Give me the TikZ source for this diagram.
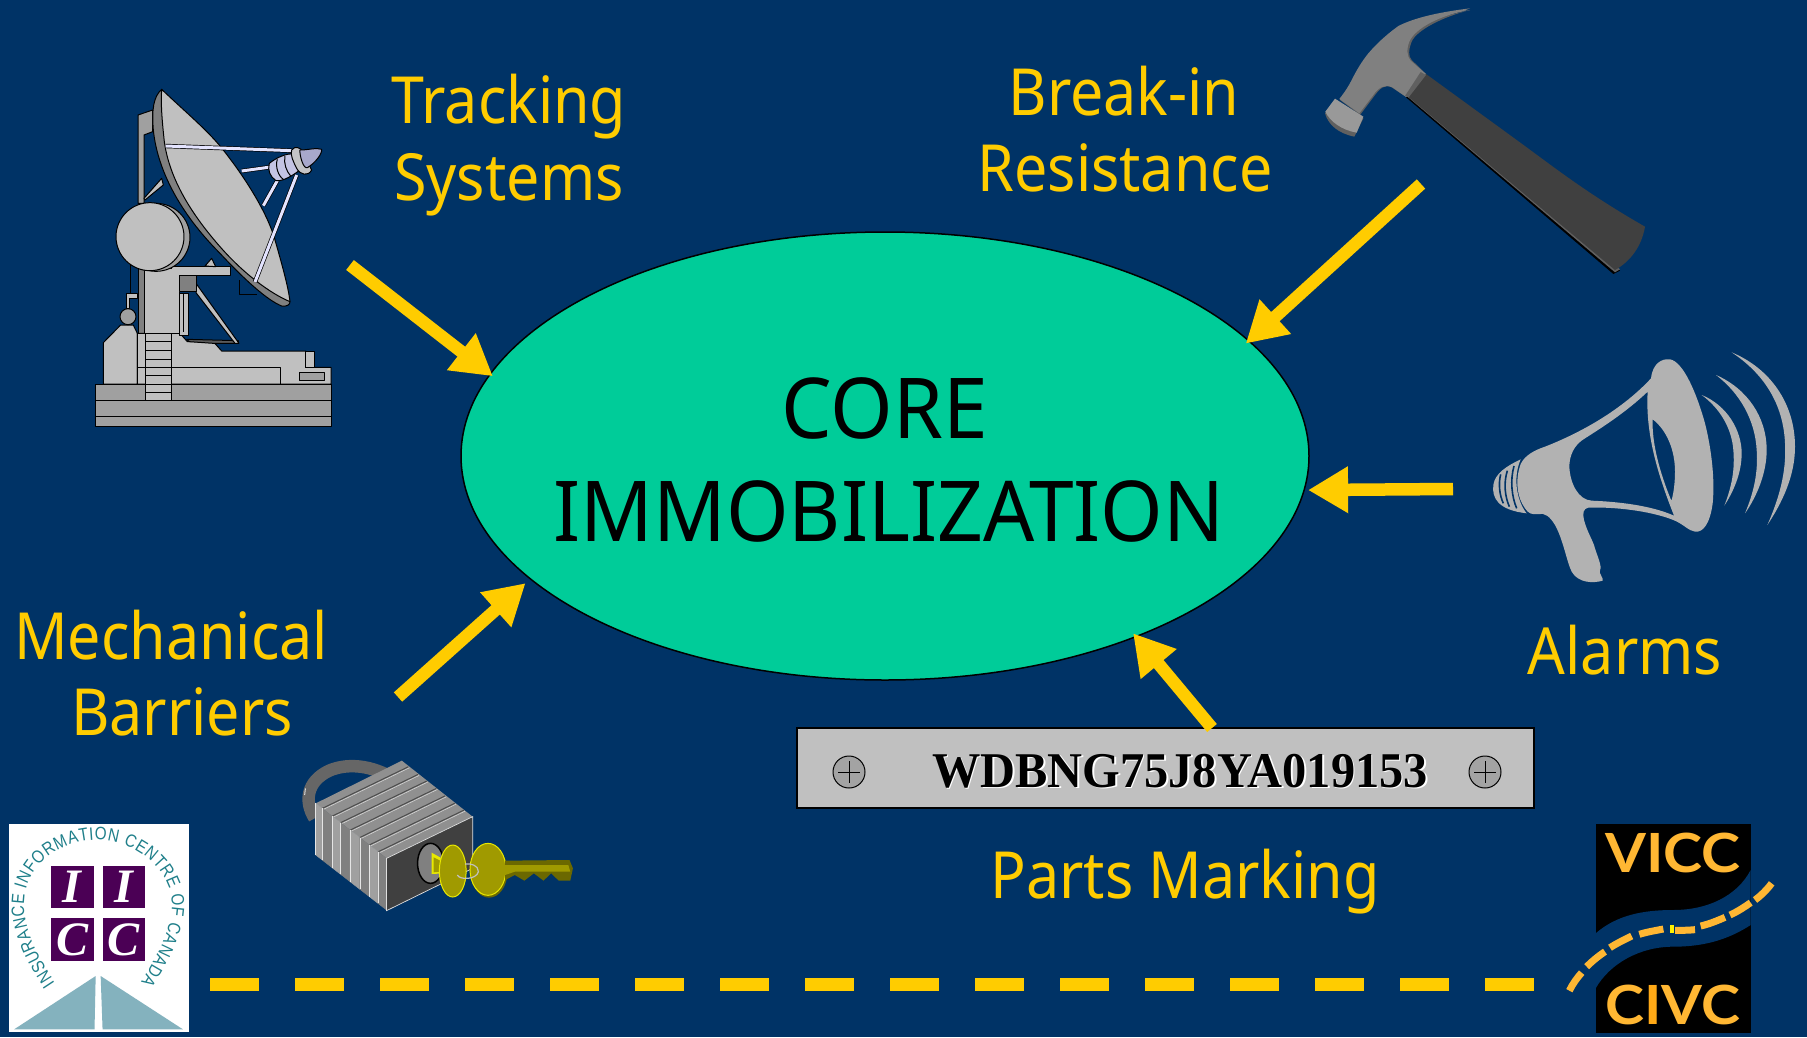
\documentclass[tikz,border=0pt]{standalone}
\usepackage{fontspec}
\usetikzlibrary{shapes.geometric,arrows.meta,decorations.text}
\newfontfamily\labfont[FakeStretch=0.91]{Noto Sans}
\newfontfamily\corefont[FakeStretch=0.955]{Noto Sans}
\newfontfamily\timesfont{Liberation Serif}
\newfontfamily\vinfont[FakeStretch=0.968]{Liberation Serif}
\newfontfamily\vfont[FakeStretch=1.09]{Lato}
\newfontfamily\logofont[FakeStretch=0.85]{Liberation Sans}
\definecolor{bgblue}{HTML}{003366}
\definecolor{gold}{HTML}{FFCC00}
\definecolor{corefill}{HTML}{00CC99}
\definecolor{gc}{HTML}{C0C0C0}
\definecolor{ga}{HTML}{A0A0A0}
\definecolor{gd}{HTML}{808080}
\definecolor{lav}{HTML}{E4E4FF}
\definecolor{lavd}{HTML}{A8A8CC}
\definecolor{lavm}{HTML}{C4C4E4}
\definecolor{hhead}{HTML}{808080}
\definecolor{hdark}{HTML}{404040}
\definecolor{hmid}{HTML}{606060}
\definecolor{hface}{HTML}{999999}
\definecolor{mega}{HTML}{B2B2B2}
\definecolor{olive}{HTML}{A09A00}
\definecolor{olived}{HTML}{6B6800}
\definecolor{keyy}{HTML}{E8E800}
\definecolor{purp}{HTML}{4B0055}
\definecolor{logoteal}{HTML}{1F7F8A}
\definecolor{roadt}{HTML}{84B2BE}
\definecolor{vorange}{HTML}{FFB733}
\definecolor{vorange2}{HTML}{FFA916}
\definecolor{shackle}{HTML}{666666}
\tikzset{
  yellowarrow/.style={draw=gold,line width=12.5pt,-{Triangle[length=40pt,width=44pt]}},
  goldlabel/.style={text=gold,font=\labfont\fontsize{65}{65}\selectfont,anchor=base,inner sep=0pt},
  corelabel/.style={text=black,font=\corefont\fontsize{84}{84}\selectfont,anchor=base,inner sep=0pt},
  sat/.style={draw=black,line width=1pt,line join=round},
  strut/.style={draw=black,line width=.7pt,double=lav,double distance=3pt},
  zoomthree/.style={x=0.33333pt,y=-0.33333pt},
  zoomwide/.style={x=0.38272pt,y=-0.33333pt},
  roadseg/.style={vorange,line width=7pt},
}
\begin{document}
\begin{tikzpicture}[x=1pt,y=-1pt]
\useasboundingbox (0,0) rectangle (1807,1037);
\fill[bgblue] (0,0) rectangle (1807,1037);

% central ellipse
\node[ellipse,draw=black,line width=1.5pt,fill=corefill,minimum width=848pt,minimum height=448pt,inner sep=0pt] (core) at (885,456) {};
\node[corelabel] (c1) at (885,438) {CORE};
\node[corelabel] (c2) at (889,541) {IMMOBILIZATION};

% labels
\node[goldlabel] (t1) at (509,123) {Tracking};
\node[goldlabel] (t2) at (509,200) {Systems};
\node[goldlabel] (b1) at (1124,115) {Break-in};
\node[goldlabel] (b2) at (1125,191) {Resistance};
\node[goldlabel] (a1) at (1625,674) {Alarms};
\node[goldlabel] (m1) at (171,659) {Mechanical};
\node[goldlabel] (m2) at (182,735) {Barriers};
\node[goldlabel] (p1) at (1185,898) {Parts Marking};

% plate
\node[draw=black,line width=2pt,fill=gc,minimum width=737pt,minimum height=80pt,inner sep=0pt,anchor=north west] (plate) at (796,727) {};
\node[anchor=base,inner sep=0pt,font=\vinfont\bfseries\fontsize{50}{50}\selectfont] (vin) at (1180,787)
  {\rlap{\kern1.5pt\raisebox{-1.5pt}{\textcolor{white}{WDBNG75J8YA019153}}}WDBNG75J8YA019153};
\foreach \n/\cx in {s1/849,s2/1485}{
  \node[circle,draw=black,line width=1pt,fill=gc!85!black,minimum size=32pt,inner sep=0pt] (\n) at (\cx,772) {};
  \draw[black,line width=1pt] (\cx-11,772) -- (\cx+11,772) (\cx,761) -- (\cx,783);
}

% arrows
\coordinate (aT) at (350,265);
\coordinate (aB) at (1421,184);
\coordinate (aA) at (1453,489);
\coordinate (aP) at (1212,728);
\coordinate (aM) at (398,697);
\draw[yellowarrow] (aT) -- ([xshift=2pt,yshift=-4pt]core.168.5);
\draw[yellowarrow] (aB) -- ([xshift=-7pt]core.17.3);
\draw[yellowarrow] (aA) -- ([xshift=2pt,yshift=-4.6pt]core.-4.4);
\draw[yellowarrow] (aP) -- ([xshift=-8pt,yshift=2pt]core.-35.6);
\draw[yellowarrow] (aM) -- ([xshift=-3.5pt,yshift=-4.6pt]core.199.6);

% bottom dashed line
\coordinate (d1) at (210,984.5);
\coordinate (d2) at (1535,984.5);
\draw[gold,line width=13pt,dash pattern=on 49pt off 36pt] (d1) -- (d2);

% satellite dish
\begin{scope}[shift={(70,70)},zoomthree]
  \draw[sat,fill=ga] (204,135) -- (248,120) -- (248,185) -- (222,195) -- (222,400) -- (204,400) -- cycle;
  \draw[sat,fill=gc] (222,385) -- (275,325) -- (280,345) -- (225,390) -- cycle;
  \draw[sat,fill=gd] (204,595) rectangle (222,790);
  \draw[sat] (182,585) -- (182,668);
  \draw[sat,fill=gc] (168,715) -- (168,670) -- (202,670) -- (202,685) -- (178,685) -- (178,715) -- cycle;
  \draw[sat,fill=gc] (100,942) -- (100,818) -- (152,765) -- (190,765) -- (202,790) -- (202,942) -- cycle;
  \draw[sat,fill=ga] (174,740) circle (24);
  \draw[sat,fill=gc] (202,790) -- (330,790) -- (352,815) -- (430,815) -- (455,843) -- (707,843) -- (707,892) -- (783,892) -- (783,942) -- (202,942) -- cycle;
  \draw[sat,fill=gc] (707,843) rectangle (733,892);
  \draw[sat] (202,892) -- (632,892) -- (632,942);
  \draw[sat,fill=ga] (687,906) rectangle (763,932);
  \draw[sat,fill=ga] (75,942) rectangle (783,992);
  \draw[sat,fill=ga] (75,992) rectangle (783,1040);
  \draw[sat,fill=ga] (75,1040) rectangle (783,1068);
  \draw[sat,fill=gc] (227,790) rectangle (303,992);
  \foreach \ry in {815,842,867,892,917,942,967}{\draw[sat] (227,\ry) -- (303,\ry);}
  \draw[sat,fill=gd!70!black] (350,808) -- (505,812) -- (505,820) -- (430,820) -- (358,815) -- cycle;
  \draw[sat,fill=gc] (378,640) -- (507,820) -- (495,820) -- (378,668) -- cycle;
  \draw[sat,fill=gc] (328,670) rectangle (355,795);
  \draw[sat] (340,672) -- (340,785);
  \draw[sat,fill=gc] (222,595) -- (303,595) -- (303,590) -- (480,590) -- (480,615) -- (328,615) -- (328,680) -- (328,790) -- (222,790) -- cycle;
  \draw[sat,fill=gd] (328,617) rectangle (378,665);
  \draw[sat,fill=gc] (405,588) -- (425,565) -- (437,590) -- cycle;
  \draw[sat] (508,630) -- (508,672) -- (560,672);
  \draw[sat,fill=ga] (258,502) circle (102);
  \draw[sat,fill=gc] (240,500) circle (102);
  \draw[sat,fill=gd] (275,58) .. controls (250,80) and (245,120) .. (250,180) .. controls (262,300) and (330,430) .. (450,550) .. controls (520,625) and (590,690) .. (635,708) .. controls (650,710) and (660,705) .. (660,695) -- (275,58) -- cycle;
  \draw[sat,fill=gc] (275,58) .. controls (340,120) and (400,170) .. (445,222) .. controls (510,300) and (590,420) .. (615,510) .. controls (635,580) and (655,650) .. (660,695) .. controls (600,670) and (520,610) .. (450,530) .. controls (380,450) and (300,340) .. (283,215) .. controls (276,150) and (272,100) .. (275,58) -- cycle;
  \draw[strut] (287,228) -- (665,242);
  \draw[strut] (515,303) -- (602,291);
  \draw[strut] (580,407) -- (622,332);
  \draw[strut] (555,636) -- (680,315);
  \draw[sat,fill=lavm] (598,280) .. controls (620,262) and (650,250) .. (668,252) -- (690,300) .. controls (670,315) and (640,335) .. (618,332) .. controls (600,320) and (592,300) .. (598,280) -- cycle;
  \draw[sat] (622,268) .. controls (615,290) and (625,318) .. (640,328);
  \draw[sat] (645,258) .. controls (640,280) and (650,305) .. (662,318);
  \draw[sat,fill=gc!90!lav] (665,240) .. controls (675,225) and (695,235) .. (698,245) -- (725,300) .. controls (715,320) and (690,315) .. (680,295) .. controls (670,275) and (660,255) .. (665,240) -- cycle;
  \draw[sat,fill=lavd] (690,240) .. controls (715,240) and (740,232) .. (755,238) .. controls (758,250) and (735,280) .. (712,293) .. controls (700,298) and (688,255) .. (690,240) -- cycle;
\end{scope}

% hammer
\begin{scope}[shift={(1300,0)},zoomthree]
  \fill[hmid] (510,30) .. controls (430,50) and (350,90) .. (335,125) .. controls (325,150) and (325,170) .. (335,180) -- (378,222) -- (320,292) -- (275,262) .. controls (255,252) and (240,265) .. (225,285) -- (180,345) -- (120,300) -- (300,80) -- cycle;
  \fill[hhead] (510,25) -- (490,33) -- (510,30) .. controls (420,45) and (345,85) .. (328,125) .. controls (318,150) and (322,170) .. (332,182) -- (378,222) -- (320,292) -- (277,262) .. controls (255,252) and (235,262) .. (220,285) -- (178,340) -- (118,297) .. controls (135,275) and (145,260) .. (155,240) .. controls (170,210) and (185,185) .. (205,160) .. controls (235,125) and (265,100) .. (295,78) .. controls (350,50) and (430,35) .. (510,25) -- cycle;
  \fill[black] (318,292) -- (940,822) -- (960,812) -- (330,285) -- cycle;
  \fill[hmid] (320,288) -- (945,817) -- (960,808) -- (335,280) -- cycle;
  \fill[hdark] (378,222) -- (650,420) .. controls (760,500) and (860,580) .. (1035,680) .. controls (1025,740) and (990,785) .. (945,810) -- (322,288) -- cycle;
  \fill[hmid] (362,216) -- (378,225) -- (326,292) -- (315,288) -- cycle;
  \fill[hmid] (102,303) -- (190,355) -- (163,410) .. controls (115,400) and (85,375) .. (75,340) -- cycle;
  \fill[hface] (105,296) -- (190,350) -- (170,398) .. controls (125,390) and (90,365) .. (76,335) -- cycle;
\end{scope}

% megaphone
\begin{scope}[shift={(1470,340)},zoomthree]
  \fill[mega,even odd rule]
    (543,115) .. controls (548,70) and (575,55) .. (600,58) .. controls (640,65) and (680,160) .. (705,250) .. controls (725,330) and (735,420) .. (728,490) .. controls (720,550) and (700,578) .. (675,575) .. controls (655,572) and (640,552) .. (610,540) .. controls (540,512) and (430,500) .. (355,503) .. controls (340,505) and (337,520) .. (342,540) .. controls (350,570) and (362,590) .. (372,615) .. controls (378,640) and (398,680) .. (390,690) .. controls (385,700) and (402,715) .. (398,722) .. controls (370,730) and (325,730) .. (305,695) .. controls (290,665) and (280,600) .. (255,555) .. controls (240,530) and (225,518) .. (205,522) .. controls (185,525) and (175,520) .. (165,505) .. controls (140,470) and (135,420) .. (152,372) .. controls (165,345) and (195,330) .. (225,320) .. controls (340,275) and (460,205) .. (543,115) -- cycle
    (533,155) .. controls (470,215) and (400,260) .. (345,295) .. controls (310,315) and (298,350) .. (298,380) .. controls (300,430) and (325,480) .. (365,482) .. controls (440,485) and (540,495) .. (612,527) .. controls (570,420) and (525,290) .. (533,155) -- cycle
    (548,238) .. controls (590,270) and (615,330) .. (615,395) .. controls (615,430) and (610,465) .. (604,482) .. controls (570,400) and (545,310) .. (548,238) -- cycle;
  \fill[mega] (152,358) .. controls (110,378) and (75,400) .. (70,435) .. controls (65,475) and (85,510) .. (170,520) .. controls (145,490) and (125,420) .. (152,358) -- cycle;
  \draw[bgblue,line width=1.6pt] (92,403) .. controls (85,430) and (88,465) .. (100,490);
  \draw[bgblue,line width=1.6pt] (112,392) .. controls (100,430) and (105,470) .. (118,500);
  \draw[bgblue,line width=1.6pt] (132,378) .. controls (120,420) and (125,470) .. (140,505);
  \fill[mega] (695,165) .. controls (770,195) and (815,270) .. (815,340) .. controls (815,400) and (790,455) .. (763,497) .. controls (785,440) and (795,390) .. (790,330) .. controls (785,265) and (750,205) .. (695,165) -- cycle;
  \fill[mega] (738,105) .. controls (830,145) and (890,230) .. (890,330) .. controls (890,400) and (860,470) .. (825,520) .. controls (850,460) and (865,400) .. (860,330) .. controls (855,240) and (810,160) .. (738,105) -- cycle;
  \fill[mega] (785,37) .. controls (900,85) and (975,190) .. (975,320) .. controls (975,410) and (935,490) .. (892,555) .. controls (925,480) and (950,400) .. (945,310) .. controls (940,190) and (880,100) .. (785,37) -- cycle;
\end{scope}

% padlock and keys
\begin{scope}[shift={(0,740)},zoomwide]
  \draw[shackle,line width=12.5pt] (822,235) .. controls (795,185) and (800,125) .. (860,92) .. controls (905,70) and (960,75) .. (1012,105);
  \draw[white!70!gray,line width=1pt] (796,165) -- (798,145);
  \fill[ga!90!black] (825,190) -- (1050,62) -- (1235,230) -- (1010,355) -- cycle;
  \foreach \a/\b in {842/1067,868/1092,890/1115,915/1140,940/1163,965/1188,988/1212}{
    \draw[black!70,line width=1pt] ({\a},{190+(\a-825)*.892}) -- (\b,{190+(\a-825)*.892-125});
    \draw[white!70!gray,line width=.5pt] ({\a+3},{190+(\a-825)*.892+3}) -- ({\b+3},{190+(\a-825)*.892-122});
  }
  \foreach \a/\b/\c in {825/842/ga,842/868/gd,868/890/ga,890/915/gd,915/940/ga,940/965/gd,965/988/ga,988/1010/gd}{
    \draw[\c,fill=\c] ({\a},{190+(\a-825)*.892}) -- ({\b},{190+(\b-825)*.892}) -- ({\b},{345+(\b-825)*.892}) -- ({\a},{345+(\a-825)*.892}) -- cycle;
    \draw[white!80!gray,line width=.5pt] ({\a},{190+(\a-825)*.892}) -- ({\a},{345+(\a-825)*.892});
  }
  \draw[white!75!gray,line width=.7pt,fill=hdark] (1010,355) -- (1235,230) -- (1235,385) -- (1010,512) -- cycle;
  \draw[black,line width=1.5pt,fill=gray] (1125,370) ellipse (34 and 60);
  \fill[keyy] (1128,338) -- (1165,362) -- (1160,400) -- (1128,402) -- cycle;
  \fill[olive] (1133,352) -- (1160,368) -- (1156,394) -- (1133,397) -- cycle;
  \draw[keyy,line width=1pt,fill=olive] (1183,393) ellipse (35 and 78);
  \fill[olived] (1278,395) ellipse (48 and 78);
  \draw[keyy,line width=1pt,fill=olive] (1275,388) ellipse (47 and 78);
  \fill[olived] (1320,362) -- (1488,360) -- (1497,385) -- (1490,422) -- (1460,422) -- (1440,400) -- (1420,422) -- (1395,400) -- (1370,422) -- (1345,405) -- (1320,420) -- cycle;
  \fill[olive] (1320,375) -- (1485,375) -- (1490,395) -- (1345,395) -- (1320,405) -- cycle;
  \draw[gc,line width=1.2pt] (1195,405) .. controls (1200,420) and (1245,420) .. (1250,395) .. controls (1250,375) and (1230,370) .. (1215,372);
\end{scope}

% IICC logo
\fill[white] (9,824) rectangle (189,1032);
\begin{scope}[shift={(0,740)},zoomwide]
  \fill[purp] (133,378) rectangle (245,505);
  \fill[purp] (268,378) rectangle (380,505);
  \fill[purp] (133,533) rectangle (245,663);
  \fill[purp] (268,533) rectangle (380,663);
  \fill[roadt] (37,868) -- (250,708) -- (247,868) -- cycle;
  \fill[roadt] (263,708) -- (478,868) -- (268,868) -- cycle;
  \node[text=white,font=\timesfont\itshape\bfseries\fontsize{48}{48}\selectfont,inner sep=0pt] (li1) at (189,441) {I};
  \node[text=white,font=\timesfont\itshape\bfseries\fontsize{48}{48}\selectfont,inner sep=0pt] (li2) at (324,441) {I};
  \node[text=white,font=\timesfont\itshape\bfseries\fontsize{48}{48}\selectfont,inner sep=0pt] (lc1) at (189,598) {C};
  \node[text=white,font=\timesfont\itshape\bfseries\fontsize{48}{48}\selectfont,inner sep=0pt] (lc2) at (324,598) {C};
\end{scope}
\path[decorate,decoration={text along path,text align={fit to path},
   text={|\logofont\fontsize{18}{18}\selectfont\color{logoteal}|INSURANCE INFORMATION CENTRE OF CANADA}}]
   (55,983) .. controls (33,950) and (24,925) .. (24,905) .. controls (24,865) and (60,840) .. (98,840) .. controls (135,840) and (172,870) .. (172,905) .. controls (172,930) and (155,960) .. (141,982);

% VICC logo
\begin{scope}[shift={(1530,800)},zoomthree]
  \fill[black] (197,72) rectangle (662,700);
  \fill[bgblue] (197,400) .. controls (260,345) and (340,330) .. (430,330) .. controls (530,330) and (620,290) .. (662,210) -- (662,375) .. controls (600,415) and (530,440) .. (430,440) .. controls (330,440) and (240,490) .. (197,565) -- cycle;
  \node[text=vorange,font=\vfont\bfseries\fontsize{54}{54}\selectfont,inner sep=0pt,anchor=base] (vtop) at (429,217) {VICC};
  \node[text=vorange,font=\vfont\bfseries\fontsize{54}{54}\selectfont,inner sep=0pt,anchor=base] (vbot) at (429,672) {C\textcolor{vorange2}{I}VC};
  \draw[roadseg] (118,572) .. controls (128,552) and (140,535) .. (155,518);
  \draw[roadseg] (170,500) .. controls (185,485) and (205,468) .. (225,455);
  \draw[roadseg] (240,443) .. controls (260,430) and (285,418) .. (305,408);
  \draw[roadseg] (328,403) .. controls (350,396) and (375,392) .. (400,387);
  \draw[roadseg] (435,391) .. controls (455,391) and (475,391) .. (495,389);
  \draw[roadseg] (512,378) .. controls (538,372) and (562,362) .. (585,352);
  \draw[roadseg] (600,345) .. controls (622,335) and (642,322) .. (662,308);
  \draw[roadseg] (675,300) .. controls (695,285) and (710,270) .. (725,250);
  \fill[yellow] (420,375) rectangle (432,400);
\end{scope}
\end{tikzpicture}
\end{document}
